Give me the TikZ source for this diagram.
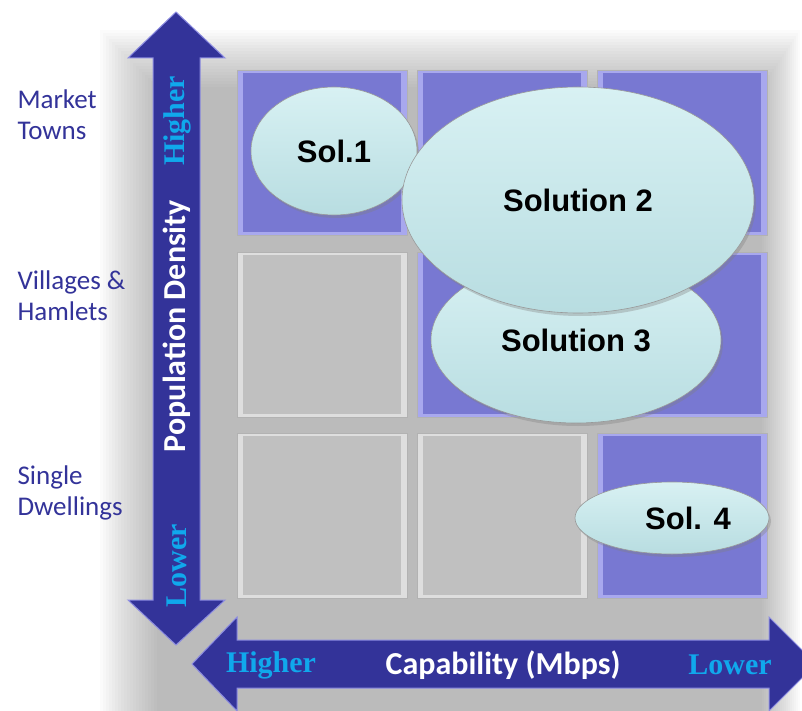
\documentclass[tikz,border=0pt]{standalone}
\usepackage{fontspec}
\setmainfont{Carlito}
\newfontfamily\solfont{Liberation Sans}
\newfontfamily\axisfont{Liberation Serif}
\usetikzlibrary{shapes.geometric,shadows,calc}
\definecolor{arrowblue}{HTML}{333399}
\definecolor{arrowedge}{HTML}{8C8CE0}
\definecolor{cellblue}{HTML}{7878D2}
\definecolor{cellbluelt}{HTML}{A8A8EE}
\definecolor{cellgrey}{HTML}{C0C0C0}
\definecolor{cellgreylt}{HTML}{DEDEDE}
\definecolor{axiscyan}{HTML}{10A8EC}
\definecolor{solhi}{HTML}{D8F1F3}
\definecolor{sollo}{HTML}{B8DDE1}

\begin{document}
\begin{tikzpicture}[x=1pt,y=-1pt]
    \tikzset{cell/.style={rectangle, draw=gray!60, minimum width=170pt, minimum height=165pt,
        inner sep=0pt, fill=#1lt,
        path picture={\fill[#1] ($(path picture bounding box.south west)+(6pt,3pt)$)
            rectangle ($(path picture bounding box.north east)-(6pt,3pt)$);}},
    sol/.style={ellipse, draw=gray!80, line width=0.6pt, inner sep=0pt,
        top color=solhi, bottom color=sollo,
        drop shadow={opacity=0.35, shadow xshift=2pt, shadow yshift=-3pt},
        font=\solfont\bfseries\fontsize{31}{36}\selectfont},
    place/.style={anchor=west, align=left, text=arrowblue, font=\fontsize{27}{31}\selectfont},
    ends/.style={text=axiscyan, font=\axisfont\bfseries\fontsize{30}{34}\selectfont},
    axis/.style={text=white, font=\bfseries\fontsize{32}{36}\selectfont}}
    \useasboundingbox (0,0) rectangle (802,711);

    % soft shadow behind the matrix
    \foreach \i in {0,...,19}
        \fill[black, opacity=0.016] (100+3*\i, 30+3*\i) rectangle (800-2*\i, 711);

    % the 3x3 matrix
    \foreach \r/\y in {1/152.5, 2/334.5, 3/515.5}
        \foreach \c/\x in {1/322, 2/502, 3/682} {
            \ifnum\c<\r
                \node[cell=cellgrey] (c-\r-\c) at (\x,\y) {};
            \else
                \node[cell=cellblue] (c-\r-\c) at (\x,\y) {};
            \fi
        }

    % axes
    \fill[arrowblue, draw=arrowedge, line width=1pt, line join=miter]
        (176,12) -- (225,58) -- (200,58) -- (200,600) -- (225,600) -- (176,645)
        -- (128,600) -- (153,600) -- (153,58) -- (128,58) -- cycle;
    \fill[arrowblue, draw=arrowedge, line width=1pt, line join=miter]
        (192,664) -- (237,617) -- (237,640) -- (769,640) -- (769,617) -- (816,664)
        -- (769,711) -- (769,688) -- (237,688) -- (237,711) -- cycle;

    \node[axis, rotate=90] (density) at (177,326) {Population Density};
    \node[ends, rotate=90] (dhigh) at (177,121) {Higher};
    \node[ends, rotate=90] (dlow) at (177,566) {Lower};
    \node[axis] (capab) at (503,665) {Capability (Mbps)};
    \node[ends] (chigh) at (271,665) {Higher};
    \node[ends] (clow) at (730,665) {Lower};

    % row labels
    \node[place] (towns) at (14,115) {Market\\Towns};
    \node[place] (villages) at (14,296) {Villages \&\\Hamlets};
    \node[place] (single) at (14,493) {Single\\Dwellings};

    % solutions
    \node[sol, minimum width=166pt, minimum height=128pt] (sol1) at (334,151) {Sol.1};
    \node[sol, minimum width=290pt, minimum height=166pt] (sol3) at (576,340) {Solution 3};
    \node[sol, minimum width=352pt, minimum height=226pt] (sol2) at (578,200) {Solution 2};
    \node[sol, minimum width=194pt, minimum height=72pt,
        label={[xshift=16pt, font=\solfont\bfseries\fontsize{31}{36}\selectfont]center:Sol. 4}] (sol4) at (672,518) {};
\end{tikzpicture}
\end{document}
